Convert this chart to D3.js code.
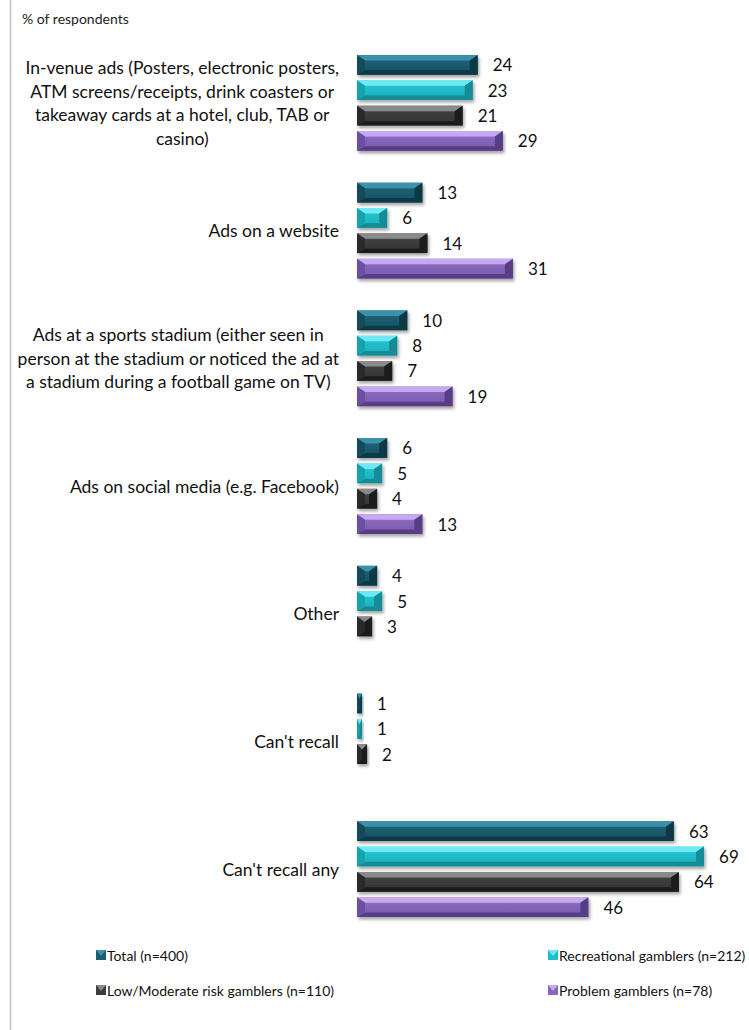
<!DOCTYPE html>
<html>
<head>
<meta charset="utf-8">
<script src="https://cdn.jsdelivr.net/npm/d3@7"></script>
<style>
  html, body { margin: 0; padding: 0; background: #fff; }
  svg { display: block; font-family: Lato, "Open Sans", sans-serif; }
</style>
</head>
<body>
<div id="chart"></div>
<script>
// ---------- data ----------
const categories = [
  "In-venue ads (Posters, electronic posters, ATM screens/receipts, drink coasters or takeaway cards at a hotel, club, TAB or casino)",
  "Ads on a website",
  "Ads at a sports stadium (either seen in person at the stadium or noticed the ad at a stadium during a football game on TV)",
  "Ads on social media (e.g. Facebook)",
  "Other",
  "Can't recall",
  "Can't recall any"
];
const categoryLines = [
  ["In-venue ads (Posters, electronic posters,", "ATM screens/receipts, drink coasters or", "takeaway cards at a hotel, club, TAB or", "casino)"],
  ["Ads on a website"],
  ["Ads at a sports stadium (either seen in", "person at the stadium or noticed the ad at", "a stadium during a football game on TV)"],
  ["Ads on social media (e.g. Facebook)"],
  ["Other"],
  ["Can't recall"],
  ["Can't recall any"]
];
const seriesNames = [
  "Total (n=400)",
  "Recreational gamblers (n=212)",
  "Low/Moderate risk gamblers (n=110)",
  "Problem gamblers (n=78)"
];
const totalValues        = [24, 13, 10, 6, 4, 1, 63];
const recreationalValues = [23, 6, 8, 5, 5, 1, 69];
const lowModerateValues  = [21, 14, 7, 4, 3, 2, 64];
const problemValues      = [29, 31, 19, 13, null, null, 46];
const seriesValues = [totalValues, recreationalValues, lowModerateValues, problemValues];
const yAxisTitle = "% of respondents";

// ---------- styles ----------
const palettes = [
  { top: "#3a92a8", body: "#1b5d71", bot: "#0c3744", side: "#134a5a" },
  { top: "#6eeaf3", body: "#21bfcc", bot: "#128a95", side: "#18a3ae" },
  { top: "#8a8a8a", body: "#3e3e3e", bot: "#1c1c1c", side: "#2c2c2c" },
  { top: "#c6a9ef", body: "#8667bd", bot: "#573d84", side: "#6c50a0" }
];

const W = 749, H = 1030;
const svg = d3.select("#chart").append("svg").attr("width", W).attr("height", H);

const defs = svg.append("defs");
const shadow = defs.append("filter").attr("id", "shadow")
  .attr("x", "-10%").attr("y", "-30%").attr("width", "130%").attr("height", "180%");
shadow.append("feDropShadow").attr("dx", 1.5).attr("dy", 2.5).attr("stdDeviation", 1.6)
  .attr("flood-color", "#000").attr("flood-opacity", 0.35);

palettes.forEach((p, i) => {
  const g = defs.append("linearGradient").attr("id", "body" + i)
    .attr("x1", 0).attr("y1", 0).attr("x2", 0).attr("y2", 1);
  g.append("stop").attr("offset", "0%").attr("stop-color", d3.interpolateRgb(p.top, p.body)(0.5));
  g.append("stop").attr("offset", "35%").attr("stop-color", p.body);
  g.append("stop").attr("offset", "100%").attr("stop-color", d3.interpolateRgb(p.body, p.bot)(0.3));
});

// left frame line
svg.append("line").attr("x1", 10.5).attr("x2", 10.5).attr("y1", 0).attr("y2", H)
  .attr("stroke", "#c0c0c0").attr("stroke-width", 1.5);

// title
svg.append("text").attr("x", 22).attr("y", 24).attr("font-size", 14).attr("fill", "#222")
  .text(yAxisTitle);

// ---------- scales ----------
const x = d3.scaleLinear().domain([0, 80]).range([357, 357 + 402.4]);
const y0 = d3.scaleBand().domain(categories).range([39, 933]);
const y1 = d3.scaleBand().domain(d3.range(seriesNames.length)).range([0, y0.bandwidth()])
  .paddingInner(0.22).paddingOuter(0.63);

// ---------- bevel bar ----------
function bevelBar(g, x0, x1, yy, h, si) {
  const p = palettes[si];
  const w = x1 - x0;
  if (w <= 0) return;
  const bx = Math.min(8, w / 2), by = Math.min(5.5, h / 2), bb = Math.min(4.5, h / 2);
  const grp = g.append("g").attr("filter", "url(#shadow)");
  grp.append("rect").attr("x", x0).attr("y", yy).attr("width", w).attr("height", h)
    .attr("fill", `url(#body${si})`);
  grp.append("polygon").attr("points", [[x0, yy], [x1, yy], [x1 - bx, yy + by], [x0 + bx, yy + by]].join(" "))
    .attr("fill", p.top);
  grp.append("polygon").attr("points", [[x0, yy + h], [x1, yy + h], [x1 - bx, yy + h - bb], [x0 + bx, yy + h - bb]].join(" "))
    .attr("fill", p.bot);
  grp.append("polygon").attr("points", [[x0, yy], [x0 + bx, yy + by], [x0 + bx, yy + h - bb], [x0, yy + h]].join(" "))
    .attr("fill", p.side);
  grp.append("polygon").attr("points", [[x1, yy], [x1 - bx, yy + by], [x1 - bx, yy + h - bb], [x1, yy + h]].join(" "))
    .attr("fill", p.bot);
}

// ---------- bars ----------
const barsG = svg.append("g");
categories.forEach((c, ci) => {
  seriesValues.forEach((vals, si) => {
    const v = vals[ci];
    if (v == null) return;
    const yy = y0(c) + y1(si);
    const h = y1.bandwidth();
    bevelBar(barsG, x(0), x(v), yy, h, si);
    svg.append("text")
      .attr("x", x(v) + 15).attr("y", yy + h / 2)
      .attr("dominant-baseline", "central")
      .attr("font-size", 17).attr("fill", "#111")
      .text(v);
  });
});

// ---------- category labels ----------
const lineH = 23.5;
const labelRight = 339;
categories.forEach((c, ci) => {
  const lines = categoryLines[ci];
  const cy = y0(c) + y0.bandwidth() / 2;
  const t = svg.append("text").attr("font-size", 17.5).attr("fill", "#111")
    .attr("text-anchor", "middle");
  lines.forEach((ln, li) => {
    t.append("tspan").attr("x", 0)
      .attr("y", cy + (li - (lines.length - 1) / 2) * lineH)
      .attr("dominant-baseline", "central")
      .text(ln);
  });
  const maxW = d3.max(t.selectAll("tspan").nodes(), n => n.getComputedTextLength());
  t.selectAll("tspan").attr("x", labelRight - maxW / 2);
});

// ---------- legend ----------
const legendPos = [[96, 955], [548, 955], [96, 990], [548, 990]];
seriesNames.forEach((s, si) => {
  const [lx, ly] = legendPos[si];
  const lg = svg.append("g");
  const sz = 10;
  const p = palettes[si];
  lg.append("rect").attr("x", lx).attr("y", ly - sz / 2).attr("width", sz).attr("height", sz).attr("fill", p.body);
  lg.append("polygon").attr("points", [[lx, ly - sz / 2], [lx + sz, ly - sz / 2], [lx + sz / 2, ly + 1]].join(" "))
    .attr("fill", p.top);
  svg.append("text").attr("x", lx + sz + 1).attr("y", ly).attr("dominant-baseline", "central")
    .attr("font-size", 14).attr("fill", "#111").text(s);
});
</script>
</body>
</html>
